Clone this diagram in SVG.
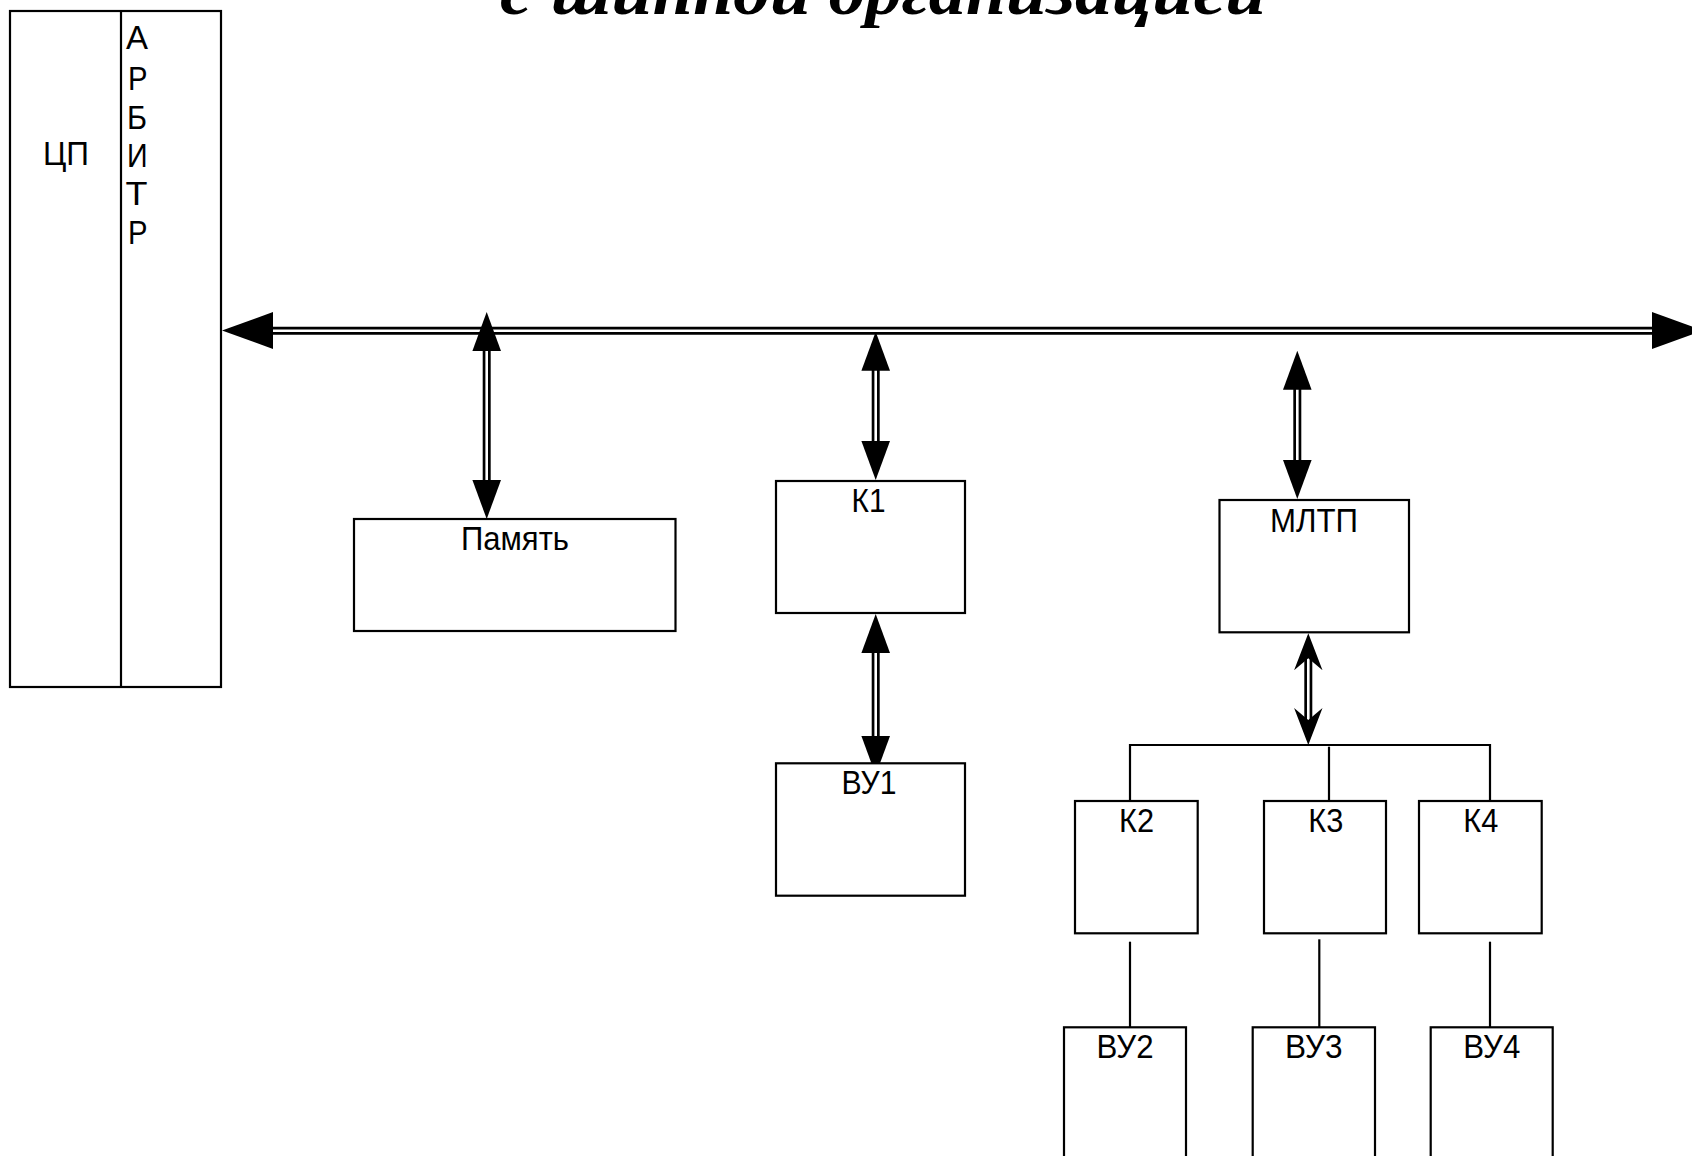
<svg xmlns="http://www.w3.org/2000/svg" xmlns:xlink="http://www.w3.org/1999/xlink" width="1692" height="1156" viewBox="0 0 1692 1156">
  <style>
    .box { fill: #ffffff; stroke: #000000; stroke-width: 2.2; }
    .ln { fill: none; stroke: #000000; stroke-width: 2.2; }
    .dbl-o { fill: none; stroke: #000000; stroke-width: 8; }
    .dbl-i { fill: none; stroke: #ffffff; stroke-width: 2.6; }
    .head { fill: #000000; stroke: none; }
    .lbl { font-family: "Liberation Sans", Arial, sans-serif; font-size: 33px; fill: #000000; }
    .title { font-family: "Liberation Serif", "Times New Roman", serif; font-size: 68px; font-weight: bold; font-style: italic; fill: #000000; }
  </style>
  <defs>
    <path id="up" d="M0,0 L14.3,39 L-14.3,39 Z"/>
    <path id="down" d="M0,0 L14.3,-39 L-14.3,-39 Z"/>
    <path id="nup" d="M0,0 L14.2,37 L0,25 L-14.2,37 Z"/>
    <path id="ndown" d="M0,0 L14.2,-37 L0,-25 L-14.2,-37 Z"/>
  </defs>
  <rect width="1692" height="1156" fill="#ffffff"/>

  <text class="title" x="500" y="14" textLength="766" lengthAdjust="spacingAndGlyphs">с шинной организацией</text>

  <g id="connectors">
    <!-- system bus -->
    <line class="dbl-o" x1="268" y1="330.7" x2="1656" y2="330.7"/>
    <line class="dbl-i" x1="268" y1="330.7" x2="1656" y2="330.7"/>
    <polygon class="head" points="222,330.5 273,312 273,349"/>
    <polygon class="head" points="1703,330.5 1652,312 1652,349"/>

    <!-- bus <-> Память -->
    <line class="dbl-o" x1="486.7" y1="348" x2="486.7" y2="484"/>
    <line class="dbl-i" x1="486.7" y1="348" x2="486.7" y2="484"/>
    <use xlink:href="#up" class="head" x="486.7" y="312"/>
    <use xlink:href="#down" class="head" x="486.7" y="519"/>

    <!-- bus <-> К1 -->
    <line class="dbl-o" x1="875.7" y1="367" x2="875.7" y2="445"/>
    <line class="dbl-i" x1="875.7" y1="367" x2="875.7" y2="445"/>
    <use xlink:href="#up" class="head" x="875.7" y="331.7"/>
    <use xlink:href="#down" class="head" x="875.7" y="480"/>

    <!-- К1 <-> ВУ1 -->
    <line class="dbl-o" x1="875.7" y1="650" x2="875.7" y2="740"/>
    <line class="dbl-i" x1="875.7" y1="650" x2="875.7" y2="740"/>
    <use xlink:href="#up" class="head" x="875.7" y="614"/>
    <use xlink:href="#down" class="head" x="875.7" y="775"/>

    <!-- bus <-> МЛТП -->
    <line class="dbl-o" x1="1297.3" y1="386" x2="1297.3" y2="464"/>
    <line class="dbl-i" x1="1297.3" y1="386" x2="1297.3" y2="464"/>
    <use xlink:href="#up" class="head" x="1297.3" y="350.7"/>
    <use xlink:href="#down" class="head" x="1297.3" y="499"/>

    <!-- МЛТП <-> local bus -->
    <line class="dbl-o" x1="1308.3" y1="655" x2="1308.3" y2="723"/>
    <line class="dbl-i" x1="1308.3" y1="655" x2="1308.3" y2="723"/>
    <use xlink:href="#nup" class="head" x="1308.3" y="633.3"/>
    <use xlink:href="#ndown" class="head" x="1308.3" y="745"/>

    <!-- local bus tree -->
    <line class="ln" x1="1130" y1="745" x2="1490" y2="745"/>
    <line class="ln" x1="1130" y1="744" x2="1130" y2="801"/>
    <line class="ln" x1="1329" y1="746.7" x2="1329" y2="801"/>
    <line class="ln" x1="1490" y1="744" x2="1490" y2="801"/>

    <!-- controllers to devices -->
    <line class="ln" x1="1130" y1="941.7" x2="1130" y2="1027"/>
    <line class="ln" x1="1319.3" y1="939.3" x2="1319.3" y2="1027"/>
    <line class="ln" x1="1490" y1="941.7" x2="1490" y2="1027"/>
  </g>

  <g id="cpu">
    <rect class="box" x="10" y="11" width="211" height="676"/>
    <line class="ln" x1="121" y1="11" x2="121" y2="688"/>
    <text class="lbl" x="43" y="165" textLength="46" lengthAdjust="spacingAndGlyphs">ЦП</text>
  </g>
  <g id="arbiter">
    <text class="lbl" x="126" y="49" textLength="22" lengthAdjust="spacingAndGlyphs">А</text>
    <text class="lbl" x="128" y="89.5" textLength="19.5" lengthAdjust="spacingAndGlyphs">Р</text>
    <text class="lbl" x="127" y="129" textLength="20" lengthAdjust="spacingAndGlyphs">Б</text>
    <text class="lbl" x="127" y="167" textLength="20.6" lengthAdjust="spacingAndGlyphs">И</text>
    <text class="lbl" x="125.5" y="205" textLength="22" lengthAdjust="spacingAndGlyphs">Т</text>
    <text class="lbl" x="128" y="243.5" textLength="19.5" lengthAdjust="spacingAndGlyphs">Р</text>
  </g>

  <g id="memory">
    <rect class="box" x="354" y="519" width="321.5" height="112"/>
    <text class="lbl" x="461" y="550" textLength="108" lengthAdjust="spacingAndGlyphs">Память</text>
  </g>
  <g id="k1">
    <rect class="box" x="776" y="481" width="189" height="132"/>
    <text class="lbl" x="851.5" y="512" textLength="34" lengthAdjust="spacingAndGlyphs">К1</text>
  </g>
  <g id="vu1">
    <rect class="box" x="776" y="763.3" width="189" height="132.4"/>
    <text class="lbl" x="841.5" y="794" textLength="55" lengthAdjust="spacingAndGlyphs">ВУ1</text>
  </g>
  <g id="mltp">
    <rect class="box" x="1219.5" y="500" width="189.5" height="132.3"/>
    <text class="lbl" x="1270" y="531.5" textLength="88" lengthAdjust="spacingAndGlyphs">МЛТП</text>
  </g>
  <g id="k2">
    <rect class="box" x="1075" y="801" width="122.7" height="132.3"/>
    <text class="lbl" x="1119" y="832" textLength="35" lengthAdjust="spacingAndGlyphs">К2</text>
  </g>
  <g id="k3">
    <rect class="box" x="1264" y="801" width="122" height="132.3"/>
    <text class="lbl" x="1308.3" y="832" textLength="35" lengthAdjust="spacingAndGlyphs">К3</text>
  </g>
  <g id="k4">
    <rect class="box" x="1419" y="801" width="122.7" height="132.3"/>
    <text class="lbl" x="1463.3" y="832" textLength="35" lengthAdjust="spacingAndGlyphs">К4</text>
  </g>
  <g id="vu2">
    <rect class="box" x="1064" y="1027.3" width="122" height="150"/>
    <text class="lbl" x="1096.5" y="1058" textLength="57" lengthAdjust="spacingAndGlyphs">ВУ2</text>
  </g>
  <g id="vu3">
    <rect class="box" x="1252.7" y="1027.3" width="122.3" height="150"/>
    <text class="lbl" x="1285" y="1058" textLength="57.5" lengthAdjust="spacingAndGlyphs">ВУ3</text>
  </g>
  <g id="vu4">
    <rect class="box" x="1430.7" y="1027.3" width="122" height="150"/>
    <text class="lbl" x="1463.3" y="1058" textLength="57" lengthAdjust="spacingAndGlyphs">ВУ4</text>
  </g>
</svg>
